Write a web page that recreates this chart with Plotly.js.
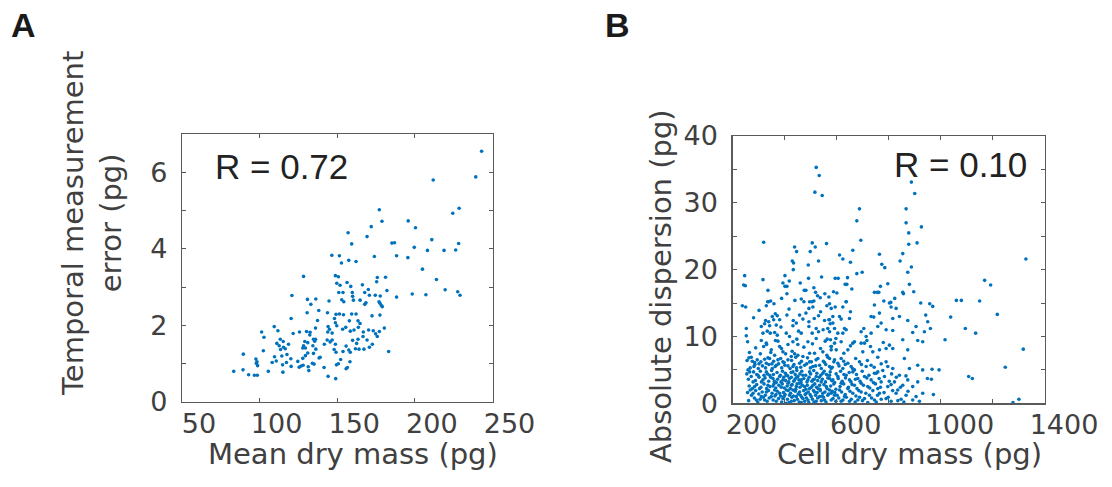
<!DOCTYPE html>
<html>
<head>
<meta charset="utf-8">
<script src="https://cdn.plot.ly/plotly-3.0.1.min.js"></script>
<style>html,body{margin:0;padding:0;background:#fff;}#chart{width:1112px;height:487px;}</style>
</head>
<body>
<div id="chart"></div>
<script>
// Panel A: mean dry mass (pg) vs temporal measurement error (pg)
const panelA_points = [
[243.0,6.55],[239.2,5.88],[211.8,5.80],[177.1,5.02],[228.5,5.06],[224.4,4.93],[178.8,4.72],[171.9,4.58],[195.7,4.73],[200.4,4.55],
[157.0,4.42],[169.2,4.32],[210.9,4.24],[185.2,4.15],[186.9,4.16],[159.3,4.13],[228.2,4.14],[199.6,4.04],[208.1,3.96],[218.8,3.96],
[226.3,3.97],[146.5,3.83],[151.4,3.82],[173.9,3.80],[188.2,3.82],[195.5,3.77],[152.7,3.63],[157.4,3.70],[162.1,3.67],[204.9,3.47],
[128.3,3.28],[148.8,3.30],[150.7,3.27],[175.8,3.25],[181.1,3.26],[213.9,3.20],[175.4,3.14],[149.7,3.10],[151.8,3.05],[156.3,3.12],
[166.2,3.06],[170.0,2.94],[158.7,3.02],[182.0,2.91],[219.5,2.93],[227.6,2.88],[229.1,2.79],[198.3,2.82],[207.1,2.80],[188.2,2.74],
[120.8,2.78],[151.0,2.86],[153.7,2.86],[159.7,2.86],[167.7,2.86],[170.7,2.79],[174.5,2.79],[177.7,2.77],[159.9,2.76],[152.9,2.67],
[154.2,2.62],[160.4,2.66],[164.7,2.66],[130.8,2.68],[136.2,2.69],[133.0,2.55],[144.7,2.64],[168.5,2.59],[167.7,2.55],[176.9,2.62],
[177.5,2.58],[178.4,2.52],[179.0,2.49],[138.1,2.39],[130.6,2.33],[143.7,2.33],[149.2,2.29],[151.4,2.30],[154.0,2.28],[159.3,2.30],
[162.1,2.30],[172.4,2.25],[177.5,2.27],[120.3,2.18],[137.3,2.13],[148.2,2.18],[148.8,2.07],[157.8,2.12],[163.4,2.12],[164.7,2.05],
[109.4,1.97],[111.8,1.86],[101.3,1.83],[102.8,1.69],[121.6,1.79],[125.7,1.83],[130.2,1.84],[132.5,1.82],[136.0,1.93],[144.1,1.97],
[143.9,1.83],[145.0,1.90],[146.7,1.80],[149.7,1.99],[153.5,1.90],[155.5,1.95],[158.4,1.85],[160.8,1.88],[163.6,1.95],[166.8,1.83],
[170.2,1.88],[173.2,1.86],[174.7,1.78],[177.1,1.84],[180.3,1.93],[175.8,1.71],[132.3,1.75],[134.7,1.64],[136.0,1.64],[129.1,1.58],
[129.5,1.41],[131.0,1.55],[128.3,1.47],[127.8,1.41],[135.5,1.59],[134.3,1.47],[136.2,1.38],[141.7,1.51],[143.5,1.62],[145.4,1.57],
[146.7,1.62],[113.3,1.64],[115.2,1.58],[111.1,1.53],[112.6,1.47],[115.4,1.43],[113.5,1.37],[116.5,1.39],[118.6,1.51],[102.4,1.34],
[89.5,1.25],[109.6,1.18],[114.3,1.20],[117.6,1.24],[120.1,1.13],[108.1,1.03],[97.6,1.12],[98.3,1.05],[98.7,0.95],[97.9,1.01],
[110.7,1.07],[117.3,1.03],[114.8,0.97],[124.6,1.06],[127.8,1.14],[129.5,1.21],[131.0,1.28],[134.7,1.27],[138.3,1.15],[139.0,1.17],
[134.0,1.01],[135.1,0.99],[126.8,0.94],[128.0,0.96],[131.3,0.92],[131.7,0.82],[125.5,0.91],[120.3,0.93],[115.0,0.78],[105.6,0.80],
[83.3,0.80],[89.3,0.84],[92.9,0.71],[96.6,0.70],[98.5,0.70],[141.5,0.90],[144.1,0.67],[149.0,0.61],[149.5,0.97],[150.7,1.00],
[152.2,1.11],[153.7,1.32],[148.0,1.37],[149.2,1.30],[155.7,1.46],[157.4,1.36],[158.4,1.30],[155.7,0.87],[156.5,0.90],[158.2,1.05],
[159.9,1.61],[162.5,1.53],[161.7,1.39],[164.0,1.38],[167.2,1.38],[170.7,1.43],[172.6,1.51],[163.4,1.64],[166.6,1.71],[169.2,1.62],
[183.1,1.32],[148.8,1.51]
];

// Panel B: cell dry mass (pg) vs absolute dispersion (pg)
const panelB_points = [
// upper band
[521.5,35.3],[533,34.1],[516.4,31.6],[544.5,31.1],[887,33.1],[899.8,31.4],[687.6,29.1],[677.4,27.3],[866.6,29.1],[866.6,27.0],
[925.3,26.4],[876.8,25.5],[692.8,24.4],[876.8,23.8],[908.7,24.0],[319.6,24.1],[506.2,24.0],[517.7,23.4],[561,23.9],[438.4,23.4],
[446.1,22.7],[498.5,22.7],[662,22.9],[611,22.2],[623.7,21.6],[653.1,21.1],[530.4,21.3],[434.6,21.0],[429.5,21.3],[490.8,20.7],
[433.3,20.0],[764.3,22.3],[773.3,20.8],[784.8,20.3],[843.6,21.3],[853.8,22.4],[887,20.4],[873,19.6],[697.9,19.6],[677.4,19.4],
[246.7,19.1],[243,17.7],[249.3,17.6],[317,18.5],[336.2,16.9],[401.4,19.1],[418,18.3],[460.2,18.0],[492,18.7],[542,18.9],
[594.3,18.7],[605.8,18.7],[641.6,18.8],[796.3,17.9],[761.8,16.6],[768,17.5],[853.8,16.6],[879.3,17.8],[896,16.7],[393.7,18.0],
[401.4,17.5],[409,17.5],[475.5,16.9],[481.9,16.9],[512.5,17.3],[519,16.6],[526.6,16.1],[536.8,15.8],[570,15.9],[588,16.7],
[600.7,16.5],[632.7,17.8],[639,17.8],[658.2,17.1],[636.5,15.2],[745,16.6],[755.4,16.6],[335,15.2],[346.4,15.3],[388.6,15.7],
[409,16.4],[439.7,15.4],[464,15.6],[496,15.2],[505,15.2],[554.7,16.4],[807.8,15.1],[823,15.7],[856.3,16.4],[922.8,15.0],
// right side, heavy masses
[1326.7,21.6],[1168.2,18.4],[1191.2,17.7],[1059.6,15.4],[1078.8,15.4],[957.4,14.9],[968.9,14.5],[1149,15.3],[942,13.2],[949.7,12.2],
[960,11.2],[1037.9,12.9],[1094.1,11.2],[1133.7,10.5],[1216.8,13.3],[1016.2,9.5],[1316.5,8.1],[966.3,5.1],[993.2,5.0],[1247.5,5.4],
[948.4,3.7],[963.8,3.6],[1106.9,4.0],[1121,3.7],[971.4,1.3],[1299.9,0.6],[1276.9,0.1],
// low masses, lower band
[237.8,14.6],[250.6,14.4],[329.8,14.6],[338.7,15.2],[359.2,14.9],[474.2,15.2],[493.4,14.2],[508.7,14.4],[512.5,15.3],[538,13.7],
[562.4,14.6],[572.6,14.9],[364.3,13.4],[352.8,13.0],[372,13.1],[409,13.2],[457.6,13.2],[530.4,13.1],[585.4,13.0],[327,12.4],
[358,12.5],[381,12.5],[433.3,12.4],[470.4,12.6],[493.4,12.2],[553.5,12.4],[570,12.5],[253,11.2],[310.6,11.5],[323.4,11.9],
[342.6,11.6],[368,11.7],[432,11.6],[493.4,11.5],[521.5,11.2],[575,11.9],[317,10.5],[333.6,10.8],[345,10.5],[361.8,10.6],
[372,10.2],[406.5,10.5],[419,10.0],[453.8,10.8],[464,10.5],[506,10.5],[530.4,10.7],[572.6,10.7],[253,10.1],[258,9.2],
[310.6,9.4],[329.8,9.0],[374.5,9.3],[432,9.2],[451,8.8],[489.6,9.2],[521.5,9.7],[563.7,9.6],[579,8.5],[319.6,8.5],
[349,8.0],[381,8.5],[393.7,7.7],[404,7.4],[361.8,7.2],[374.5,6.5],[342.6,6.7],[323.4,6.6],[263,6.8],[276,6.3],
[285,6.1],[295,6.5],[301.7,5.9],[282.5,5.5],[259.5,5.0],[329.8,6.0],[351.5,5.9],[368,5.7],[393.7,6.2],[413,6.5],
[425.7,7.0],[438.4,7.4],[451,7.2],[470.4,7.0],[496,7.5],[515,7.5],[528,6.7],[547,7.7],[562.4,7.2],[579,8.0],
[457.6,6.0],[476.8,5.7],[496,6.2],[508.7,5.5],[534.3,5.7],[553.5,6.1],[572.6,5.5],[432,5.5],[413,5.6],
[266,4.7],[272,4.0],[279,3.2],[285,2.5],[268,2.0],[298,4.2],[329.8,4.7],[342.6,4.2],[355.4,3.7],[317,3.5],
[336,2.7],[368,3.1],[381,4.0],[393.7,3.5],[406.5,4.2],[413,3.0],[419,3.7],[432,4.7],[438.4,3.5],[451,4.0],
[457.6,3.0],[470.4,4.2],[476.8,2.5],[489.6,3.5],[496,4.7],[508.7,2.7],[521.5,4.0],[528,2.2],[540.7,3.2],[547,4.5],
[560,2.5],[572.6,3.7],[579,1.5],[566,1.2],[547,1.5],[534.3,1.0],[515,1.7],[502.3,1.0],[483,1.5],[470.4,0.7],
[457.6,1.7],[445,1.0],[432,2.0],[419,1.2],[406.5,2.0],[393.7,0.7],[381,1.5],[361.8,2.0],[349,1.0],[329.8,1.7],
[310.6,1.0],[291.5,0.5],[279,1.5],[304,2.2],[323.4,0.5],[368,0.3],[425.7,0.3],[464,0.1],[489.6,0.5],[521.5,0.3],
[553.5,0.5],[406.5,0.0],[445,2.5],[496,2.2],[425.7,2.7],[464,3.5],[387,2.4],[355.4,2.6],[508.7,3.5],[534.3,2.7],
// dense cluster, additional readings
[262,0.4],[284,0.8],[297,0.2],[306,0.6],[318,0.9],[333,0.3],[341,0.8],[356,0.5],[363,1.1],[377,0.7],
[389,0.2],[398,1.0],[411,0.6],[417,0.1],[428,0.9],[437,0.4],[449,0.6],[456,0.2],[466,0.9],[477,0.3],
[484,0.8],[493,0.1],[507,0.6],[513,0.2],[527,0.8],[541,0.4],[549,0.9],[559,0.2],[586,0.7],[597,0.3],
[608,0.8],[624,0.5],[637,0.9],[656,0.6],[671,0.2],[688,0.9],[699,0.4],[734,0.8],[752,0.2],[771,0.6],
[798,0.9],[835,0.4],[858,0.2],
[258,1.6],[273,1.2],[289,1.9],[301,1.4],[314,1.7],[326,1.2],[338,1.9],[352,1.5],[367,1.3],[372,1.8],
[385,1.1],[396,1.6],[402,1.3],[414,1.9],[423,1.5],[434,1.1],[441,1.8],[452,1.4],[461,1.2],[473,1.9],
[479,1.3],[491,1.7],[498,1.3],[511,1.9],[519,1.2],[525,1.6],[537,1.9],[544,1.1],[555,1.7],[569,1.4],
[583,1.8],[593,1.6],[602,1.2],[619,1.7],[633,1.3],[651,1.8],[674,1.1],[685,1.9],[712,1.5],[739,1.9],
[757,1.2],[782,1.6],[815,1.9],[874,1.8],
[264,2.6],[276,2.2],[293,2.8],[309,2.4],[321,2.9],[331,2.2],[344,2.5],[359,2.9],[366,2.3],[378,2.7],
[391,2.9],[399,2.3],[410,2.6],[422,2.2],[429,2.8],[443,2.1],[448,2.9],[459,2.4],[468,2.7],[482,2.1],
[487,2.7],[503,2.4],[516,2.9],[523,2.4],[536,2.1],[551,2.8],[563,2.2],[577,2.6],[589,2.9],[597,2.1],
[613,2.5],[627,2.9],[645,2.4],[659,2.8],[678,2.2],[703,2.7],[727,2.3],[749,2.9],[768,2.4],[809,2.8],
[845,2.4],
[261,3.6],[288,3.4],[302,3.9],[311,3.2],[325,3.8],[339,3.3],[347,3.9],[361,3.3],[373,3.6],[386,3.2],
[397,3.9],[404,3.4],[416,3.2],[426,3.9],[435,3.3],[444,3.8],[455,3.5],[463,3.1],[474,3.7],[486,3.2],
[494,3.9],[505,3.3],[514,3.6],[527,3.4],[533,3.9],[545,3.6],[557,3.2],[566,3.8],[581,3.4],[592,3.1],
[606,3.7],[621,3.3],[634,3.8],[655,3.2],[672,3.6],[690,3.3],[716,3.8],[741,3.1],[763,3.7],[802,3.3],
[829,3.9],
[255,4.4],[281,4.7],[293,4.3],[307,4.8],[321,4.2],[334,4.4],[350,4.9],[357,4.3],[371,4.6],[384,4.2],
[392,4.8],[403,4.5],[412,4.1],[425,4.6],[441,4.3],[447,4.9],[459,4.4],[466,4.8],[481,4.2],[500,4.4],
[512,4.9],[524,4.5],[539,4.2],[552,4.8],[561,4.3],[575,4.7],[598,4.4],[615,4.8],[628,4.3],[648,4.6],
[676,4.3],[698,4.8],[724,4.2],[752,4.5],[777,4.9],[811,4.4],[866,4.1],
[268,5.3],[286,5.8],[299,5.2],[315,5.6],[327,5.3],[340,5.8],[353,5.2],[364,5.5],[377,5.9],[389,5.3],
[401,5.7],[421,5.2],[436,5.8],[446,5.3],[462,5.4],[485,5.9],[499,5.3],[519,5.6],[541,5.2],[558,5.8],
[583,5.4],[609,5.6],[633,5.8],[661,5.2],[695,5.8],[744,5.4],[771,5.9],
[256,6.4],[272,6.9],[309,6.2],[336,6.8],[358,6.3],[385,6.7],[398,6.1],[427,6.4],[443,6.9],[465,6.3],
[488,6.8],[503,6.2],[521,6.5],[549,6.3],[566,6.9],[592,6.5],[627,6.3],[673,6.7],[718,6.4],[758,6.9],
[265,7.6],[289,8.3],[307,7.4],[331,8.8],[347,7.6],[365,9.4],[388,8.2],[413,8.8],[429,7.8],[447,9.6],
[474,8.4],[507,8.9],[538,8.2],[556,9.3],[597,9.7],[653,8.6],[716,9.4],[779,9.1],
[281,12.8],[302,13.9],[339,12.2],[386,11.4],[417,14.1],[445,12.0],[482,13.5],[514,12.7],[548,11.0],
// middle masses
[579,14.2],[594.3,14.4],[623.7,14.4],[636.5,15.2],[653,13.7],[745,14.7],[781,15.3],[802.6,15.0],[809,14.4],[828.2,14.2],
[572.6,12.5],[585.4,12.0],[611,13.0],[617.3,12.6],[649.3,12.7],[732.3,13.0],[742.6,12.9],[764.3,13.5],[770.7,12.0],[815.4,12.7],
[841,13.0],[873,12.4],[566,11.2],[591.8,11.2],[604.5,10.5],[630,11.2],[623.7,10.5],[636.5,11.0],[694,10.7],[704.2,11.2],
[713.2,10.0],[732.3,10.5],[758,11.5],[789.9,11.0],[815.4,10.9],[892,10.6],[904.9,11.5],[936.8,10.7],[576.4,9.5],[591.8,9.0],
[579,8.5],[598.2,8.0],[617.3,9.2],[627.5,7.5],[643,8.0],[662,9.0],[668.4,9.2],[694,9.0],[706.8,9.0],[729.8,8.5],
[700.4,7.7],[738.7,7.7],[764.3,8.0],[789.9,8.2],[802.6,8.7],[815.4,8.2],[853.8,9.5],[873,8.0],[911.3,9.4],[930.4,9.2],
[572.6,6.7],[589.2,6.2],[579,5.2],[604.5,6.0],[617.3,6.7],[623.7,5.2],[643,6.0],[655.7,5.5],[668.4,5.0],[687.6,6.2],
[713.2,5.5],[732.3,5.7],[758,4.7],[789.9,6.2],[796.2,5.5],[815.4,5.2],[841,4.2],[860.1,6.7],[879.3,5.2],[911.3,5.7],
[930.4,5.0],[572.6,4.2],[585.4,3.5],[604.5,4.0],[617.3,3.0],[636.5,4.2],[649.3,3.5],[662,4.7],[668.4,2.7],[681.2,3.7],
[694,3.0],[706.8,4.0],[719.6,2.5],[732.3,3.5],[745,4.5],[758,2.2],[770.7,3.2],[783.5,4.0],[796.2,2.5],[821.8,3.2],
[834.6,2.0],[853.8,2.7],[873,3.5],[892,2.5],[911.3,3.2],[930.4,1.5],[572.6,2.0],[591.8,1.2],[611,2.0],[630,1.0],
[643,2.2],[662,1.5],[681.2,0.5],[694,1.7],[706.8,0.7],[726,1.2],[745,0.5],[764.3,1.5],[789.9,0.7],[809,0.3],
[828.2,1.5],[847.4,0.6],[866.5,1.2],[892,0.5],[904.9,1.0],[917.7,0.3],[579,0.5],[617.3,0.3],[649.3,0.3],[719.6,0.1]
];

const panelA_xticks = [50, 100, 150, 200, 250];
const panelA_yticks = [0, 1, 2, 3, 4, 5, 6, 7];
const panelA_ylabels = ['0', '', '2', '', '4', '', '6', ''];
const panelB_xticks = [200, 400, 600, 800, 1000, 1200, 1400];
const panelB_xlabels = ['200', '', '600', '', '1000', '', '1400'];
const panelB_yticks = [0, 5, 10, 15, 20, 25, 30, 35, 40];
const panelB_ylabels = ['0', '', '10', '', '20', '', '30', '', '40'];
const panelA_R = 'R = 0.72';
const panelB_R = 'R = 0.10';

const W = 1112, H = 487;
const blue = '#0072BD';
const tickFont = {family: 'DejaVu Sans, Liberation Sans, sans-serif', size: 27, color: '#404040'};
const titleFont = {family: 'DejaVu Sans, Liberation Sans, sans-serif', size: 29, color: '#404040'};

function px2x(p) { return p / W; }
function px2y(p) { return 1 - p / H; }

const traces = [
  {type: 'scatter', mode: 'markers', x: panelA_points.map(p => p[0]), y: panelA_points.map(p => p[1]),
   xaxis: 'x', yaxis: 'y', marker: {color: blue, size: 3.6}, hoverinfo: 'x+y'},
  {type: 'scatter', mode: 'markers', x: panelB_points.map(p => p[0]), y: panelB_points.map(p => p[1]),
   xaxis: 'x2', yaxis: 'y2', marker: {color: blue, size: 3.6}, hoverinfo: 'x+y'}
];

const axBase = {
  showgrid: false, zeroline: false, showline: true, linecolor: '#5a5a5a', linewidth: 1.2,
  mirror: 'ticks', ticks: 'inside', ticklen: 4, tickwidth: 1, tickcolor: '#5a5a5a',
  tickfont: tickFont, fixedrange: true
};

const layout = {
  width: W, height: H,
  margin: {l: 0, r: 0, t: 0, b: 0},
  paper_bgcolor: '#fff', plot_bgcolor: '#fff',
  showlegend: false,
  xaxis: Object.assign({}, axBase, {domain: [px2x(182), px2x(492.5)], range: [50, 250],
    tickmode: 'array', tickvals: panelA_xticks, ticktext: panelA_xticks.map(String),
    anchor: 'y', ticklabelshift: 17, ticklabelstandoff: -3}),
  yaxis: Object.assign({}, axBase, {domain: [px2y(402), px2y(134)], range: [0, 7],
    tickmode: 'array', tickvals: panelA_yticks, ticktext: panelA_ylabels, anchor: 'x', ticklabelstandoff: 8}),
  xaxis2: Object.assign({}, axBase, {domain: [px2x(732.5), px2x(1045)], range: [200, 1400],
    tickmode: 'array', tickvals: panelB_xticks, ticktext: panelB_xlabels,
    anchor: 'y2', ticklabelshift: 19, ticklabelstandoff: -3}),
  yaxis2: Object.assign({}, axBase, {domain: [px2y(403.3), px2y(136)], range: [0, 40],
    tickmode: 'array', tickvals: panelB_yticks, ticktext: panelB_ylabels, anchor: 'x2', ticklabelstandoff: 8}),
  annotations: [
    {text: '<b>A</b>', xref: 'paper', yref: 'paper', x: px2x(9), y: px2y(25), xanchor: 'left', yanchor: 'middle',
     showarrow: false, font: {family: 'Liberation Sans, Arial, sans-serif', size: 34, color: '#1a1a1a'}},
    {text: '<b>B</b>', xref: 'paper', yref: 'paper', x: px2x(603), y: px2y(25), xanchor: 'left', yanchor: 'middle',
     showarrow: false, font: {family: 'Liberation Sans, Arial, sans-serif', size: 34, color: '#1a1a1a'}},
    {text: panelA_R, xref: 'x', yref: 'y', x: 70, y: 6.15, xanchor: 'left', yanchor: 'middle',
     showarrow: false, font: {family: 'Liberation Sans, Arial, sans-serif', size: 35, color: '#222'}},
    {text: panelB_R, xref: 'x2', yref: 'y2', x: 1337, y: 35.7, xanchor: 'right', yanchor: 'middle',
     showarrow: false, font: {family: 'Liberation Sans, Arial, sans-serif', size: 35, color: '#222'}},
    {text: 'Mean dry mass (pg)', xref: 'paper', yref: 'paper', x: px2x(353), y: px2y(454), xanchor: 'center', yanchor: 'middle',
     showarrow: false, font: titleFont},
    {text: 'Cell dry mass (pg)', xref: 'paper', yref: 'paper', x: px2x(909), y: px2y(454), xanchor: 'center', yanchor: 'middle',
     showarrow: false, font: titleFont},
    {text: 'Temporal measurement<br>error (pg)', xref: 'paper', yref: 'paper', x: px2x(92), y: px2y(224), xanchor: 'center', yanchor: 'middle',
     textangle: -90, showarrow: false, font: titleFont},
    {text: 'Absolute dispersion (pg)', xref: 'paper', yref: 'paper', x: px2x(661), y: px2y(286), xanchor: 'center', yanchor: 'middle',
     textangle: -90, showarrow: false, font: titleFont}
  ]
};

Plotly.newPlot('chart', traces, layout, {displayModeBar: false, staticPlot: true});
</script>
</body>
</html>
